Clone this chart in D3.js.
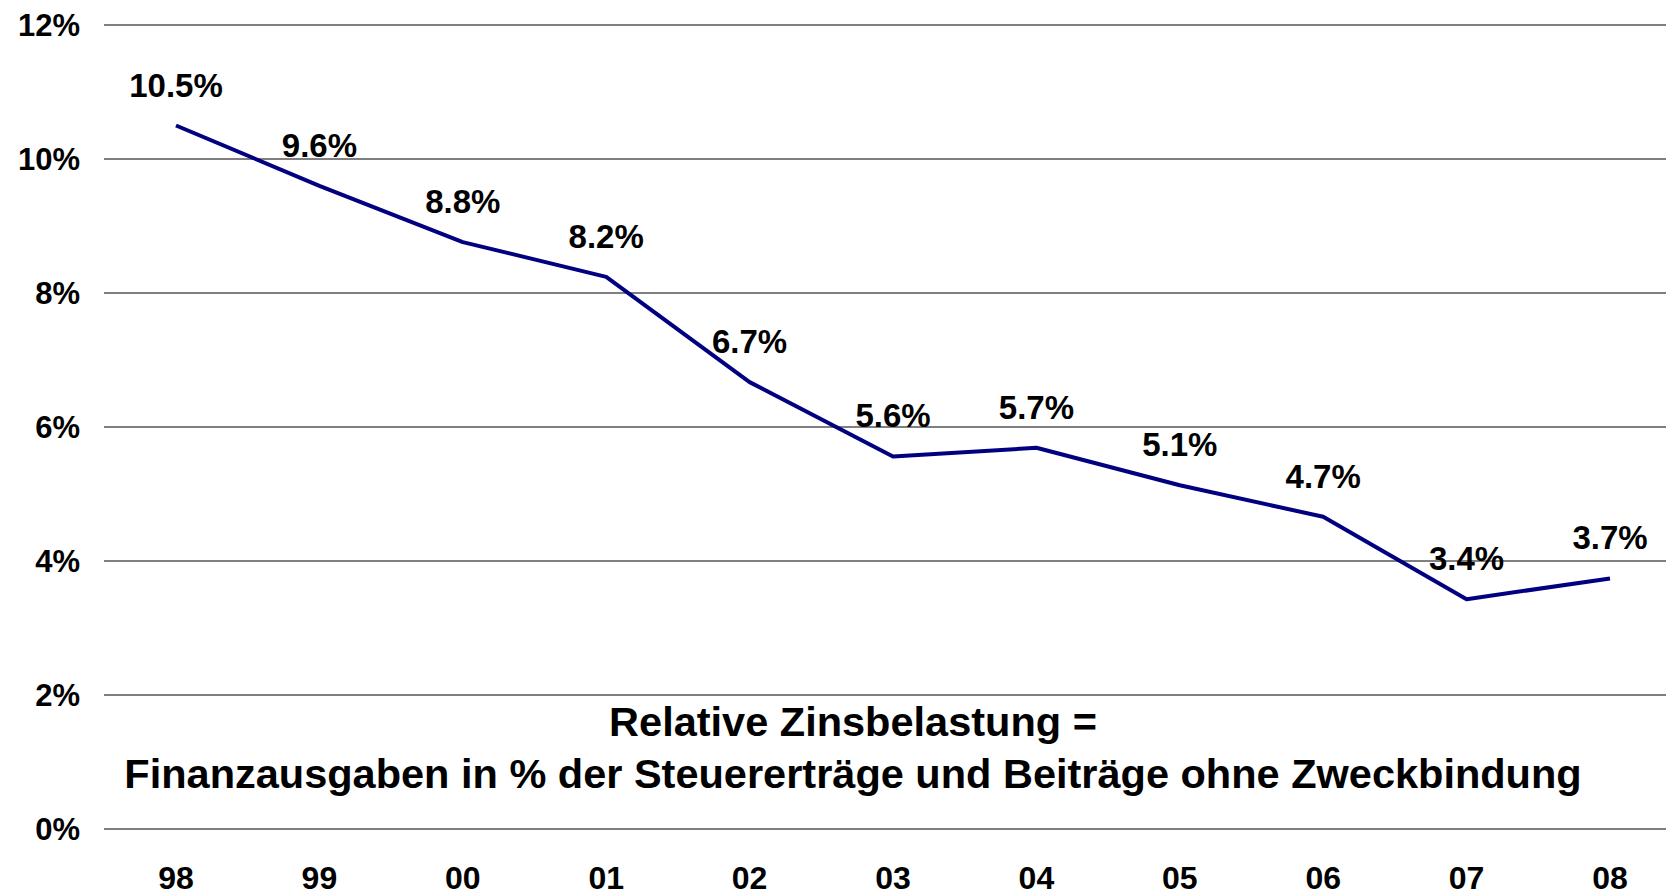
<!DOCTYPE html>
<html>
<head>
<meta charset="utf-8">
<script src="https://cdn.jsdelivr.net/npm/d3@7"></script>
<style>
  html, body { margin: 0; padding: 0; background: #fff; }
  svg { display: block; font-family: "Liberation Sans", Arial, sans-serif; font-weight: bold; }
</style>
</head>
<body>
<svg id="chart" width="1666" height="895"></svg>
<script>
const years = ["98", "99", "00", "01", "02", "03", "04", "05", "06", "07", "08"]
const zinsbelastung = [10.5, 9.6, 8.76, 8.24, 6.67, 5.56, 5.69, 5.13, 4.66, 3.43, 3.74]
const yTicks = [0, 2, 4, 6, 8, 10, 12]
const titleLines = [
  "Relative Zinsbelastung =",
  "Finanzausgaben in % der Steuererträge und Beiträge ohne Zweckbindung"
]

const width = 1666, height = 895
const plotLeft = 104

const svg = d3.select('#chart')

const x = d3.scalePoint()
  .domain(years)
  .range([176, 1610])

const y = d3.scaleLinear()
  .domain([0, 12])
  .range([829, 25])

// horizontal grid lines
svg.append('g')
  .selectAll('line')
  .data(yTicks)
  .enter()
  .append('line')
  .attr('x1', plotLeft)
  .attr('x2', width)
  .attr('y1', d => y(d))
  .attr('y2', d => y(d))
  .attr('stroke', '#000')
  .attr('stroke-width', 1)

// y tick labels
svg.append('g')
  .selectAll('text')
  .data(yTicks)
  .enter()
  .append('text')
  .attr('x', 80)
  .attr('y', d => y(d))
  .attr('dy', '0.36em')
  .attr('text-anchor', 'end')
  .style('font-size', '31px')
  .text(d => d + '%')

// x labels
svg.append('g')
  .selectAll('text')
  .data(years)
  .enter()
  .append('text')
  .attr('x', d => x(d))
  .attr('y', 889)
  .attr('text-anchor', 'middle')
  .style('font-size', '32px')
  .text(d => d)

// the line itself
const points = years.map((yr, i) => ({ year: yr, value: zinsbelastung[i] }))

svg.append('path')
  .datum(points)
  .attr('fill', 'none')
  .attr('stroke', '#000080')
  .attr('stroke-width', 4)
  .attr('stroke-linejoin', 'round')
  .attr('d', d3.line().x(d => x(d.year)).y(d => y(d.value)))

// value labels (rounded to one decimal like the original)
svg.append('g')
  .selectAll('text')
  .data(points)
  .enter()
  .append('text')
  .attr('x', d => x(d.year))
  .attr('y', d => y(d.value) - 29)
  .attr('text-anchor', 'middle')
  .style('font-size', '33px')
  .text(d => d.value.toFixed(1) + '%')

// explanation text
svg.append('g')
  .selectAll('text')
  .data(titleLines)
  .enter()
  .append('text')
  .attr('x', 853)
  .attr('y', (d, i) => 736 + i * 52)
  .attr('text-anchor', 'middle')
  .style('font-size', '41.5px')
  .text(d => d)
</script>
</body>
</html>
